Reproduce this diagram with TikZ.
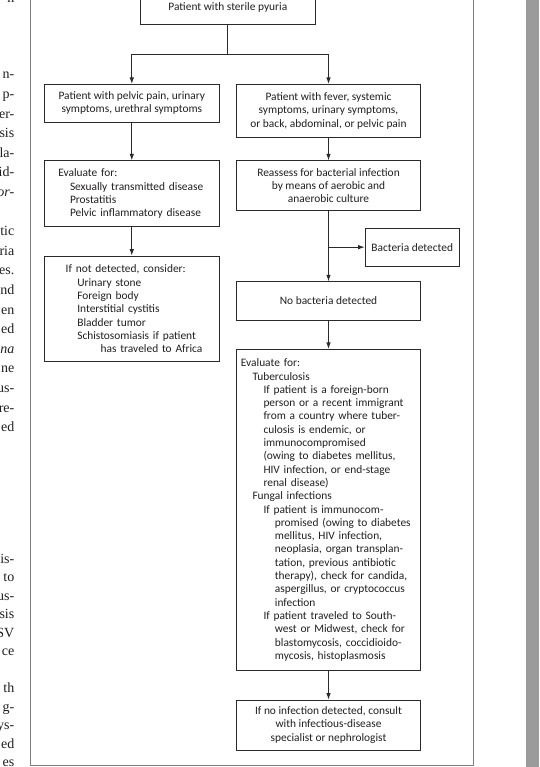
\documentclass[tikz,border=0pt]{standalone}
\usepackage{fontspec}
\setmainfont{Liberation Serif}
\newfontfamily\boxfont{Carlito}
\usetikzlibrary{arrows.meta}
\definecolor{txt}{HTML}{231F20}
\definecolor{boxc}{HTML}{2A2A2A}
\definecolor{framec}{HTML}{7F7F7F}
\definecolor{barc}{HTML}{9B9B9B}
\newcommand{\ind}[2]{\hspace*{#1pt}\mbox{#2}}
\begin{document}
\begin{tikzpicture}[x=1pt,y=-1pt,
  box/.style={draw=boxc, line width=0.8pt, inner sep=0pt, text=txt,
    font=\boxfont\fontsize{11.4}{13.3}\selectfont},
  cbox/.style={box, align=center},
  lbox/.style={box, align=left},
  link/.style={draw=boxc, line width=0.8pt},
  arr/.style={link, -{Latex[length=6.5pt,width=4.5pt]}},
  frag/.style={anchor=base east, inner sep=0pt, text=txt,
    font=\fontsize{14}{16}\selectfont}]
\useasboundingbox (0,0) rectangle (539,767);
\fill[white] (0,0) rectangle (539,767);
% gray bar and frame
\fill[barc] (526,0) rectangle (539,767);
\draw[framec, line width=1.3pt] (30.7,-10) -- (30.7,765.3) -- (473.5,765.3) -- (473.5,-10);

% boxes
\node[cbox, minimum width=175.7pt, minimum height=34.3pt] (top) at (227.85,7.15) {Patient with sterile pyuria};
\node[cbox, minimum width=175pt, minimum height=38pt] (l1) at (131.8,103.3)
  {Patient with pelvic pain, urinary\\symptoms, urethral symptoms};
\node[cbox, minimum width=184pt, minimum height=53pt] (r1) at (328.5,110.8)
  {Patient with fever, systemic\\symptoms, urinary symptoms,\\or back, abdominal, or pelvic pain};
\node[lbox, minimum width=175pt, minimum height=66pt, text width=147pt] (l2) at (131.8,193.7)
  {Evaluate for:\\\ind{11.7}{Sexually transmitted disease}\\\ind{11.7}{Prostatitis}\\\ind{11.7}{Pelvic inflammatory disease}};
\node[cbox, minimum width=184pt, minimum height=50pt] (r2) at (328.5,185.7)
  {Reassess for bacterial infection\\by means of aerobic and\\anaerobic culture};
\node[lbox, minimum width=175pt, minimum height=105.7pt, text width=132.2pt] (l3) at (131.8,308.85)
  {\mbox{If not detected, consider:}\\\ind{11.6}{Urinary stone}\\\ind{11.6}{Foreign body}\\\ind{11.6}{Interstitial cystitis}\\\ind{11.6}{Bladder tumor}\\\ind{11.6}{Schistosomiasis if patient}\\\ind{35}{has traveled to Africa}};
\node[cbox, minimum width=94.3pt, minimum height=37.7pt] (bd) at (412.15,247.15) {Bacteria detected};
\node[cbox, minimum width=184pt, minimum height=38.3pt] (nb) at (328.5,300.85) {No bacteria detected};
\node[lbox, minimum width=184pt, minimum height=321.4pt, text width=175.2pt] (ev) at (328.5,510)
  {Evaluate for:\\
   \ind{11.6}{Tuberculosis}\\
   \ind{22.6}{If patient is a foreign-born}\\
   \ind{22.6}{person or a recent immigrant}\\
   \ind{22.6}{from a country where tuber-}\\
   \ind{22.6}{culosis is endemic, or}\\
   \ind{22.6}{immunocompromised}\\
   \ind{22.6}{(owing to diabetes mellitus,}\\
   \ind{22.6}{HIV infection, or end-stage}\\
   \ind{22.6}{renal disease)}\\
   \ind{11.6}{Fungal infections}\\
   \ind{22.6}{If patient is immunocom-}\\
   \ind{34}{promised (owing to diabetes}\\
   \ind{34}{mellitus, HIV infection,}\\
   \ind{34}{neoplasia, organ transplan-}\\
   \ind{34}{tation, previous antibiotic}\\
   \ind{34}{therapy), check for candida,}\\
   \ind{34}{aspergillus, or cryptococcus}\\
   \ind{34}{infection}\\
   \ind{22.6}{If patient traveled to South-}\\
   \ind{34}{west or Midwest, check for}\\
   \ind{34}{blastomycosis, coccidioido-}\\
   \ind{34}{mycosis, histoplasmosis}};
\node[cbox, minimum width=184pt, minimum height=50pt] (fin) at (328.5,725)
  {If no infection detected, consult\\with infectious-disease\\specialist or nephrologist};

% connectors
\coordinate (split) at (227.85,54);
\draw[link] (top.south) -- (split);
\draw[arr] (split) -| (l1.north);
\draw[arr] (split) -| (r1.north);
\draw[arr] (l1) -- (l2);
\draw[arr] (l2) -- (l3);
\draw[arr] (r1) -- (r2);
\draw[arr] (r2) -- (nb);
\coordinate (br) at (r2.south |- bd.west);
\draw[arr] (br) -- (bd.west);
\draw[arr] (nb) -- (ev);
\draw[arr] (ev) -- (fin);

% cropped body text at the left edge
\node[frag] (s1) at (14.5,2.3) {n};
\node[frag] (s2) at (14.5,78.9) {n-};
\node[frag] (s3) at (14.5,98.5) {p-};
\node[frag] (s4) at (14.5,118.1) {er-};
\node[frag] (s5) at (14.5,137.7) {sis};
\node[frag] (s6) at (14.5,157.3) {la-};
\node[frag] (s7) at (14.5,176.9) {id-};
\node[frag] (s8) at (14.5,196.5) {\itshape or-};
\node[frag] (s9) at (14.5,235.7) {tic};
\node[frag] (s10) at (14.5,255.3) {ria};
\node[frag] (s11) at (14.5,274.9) {es.};
\node[frag] (s12) at (14.5,294.5) {nd};
\node[frag] (s13) at (14.5,314.1) {en};
\node[frag] (s14) at (14.5,333.7) {ed};
\node[frag] (s15) at (14.5,353.3) {\itshape na};
\node[frag] (s16) at (14.5,372.9) {ne};
\node[frag] (s17) at (14.5,392.5) {us-};
\node[frag] (s18) at (14.5,412.1) {re-};
\node[frag] (s19) at (14.5,431.7) {ed};
\node[frag] (s20) at (14.5,563.0) {is-};
\node[frag] (s21) at (14.5,581.5) {to};
\node[frag] (s22) at (14.5,600.0) {us-};
\node[frag] (s23) at (14.5,618.5) {sis};
\node[frag] (s24) at (14.5,637.0) {SV};
\node[frag] (s25) at (14.5,655.5) {ce};
\node[frag] (s26) at (14.5,692.5) {th};
\node[frag] (s27) at (14.5,711.0) {g-};
\node[frag] (s28) at (14.5,729.5) {ys-};
\node[frag] (s29) at (14.5,748.0) {ed};
\node[frag] (s30) at (14.5,766.5) {es};
\end{tikzpicture}
\end{document}
